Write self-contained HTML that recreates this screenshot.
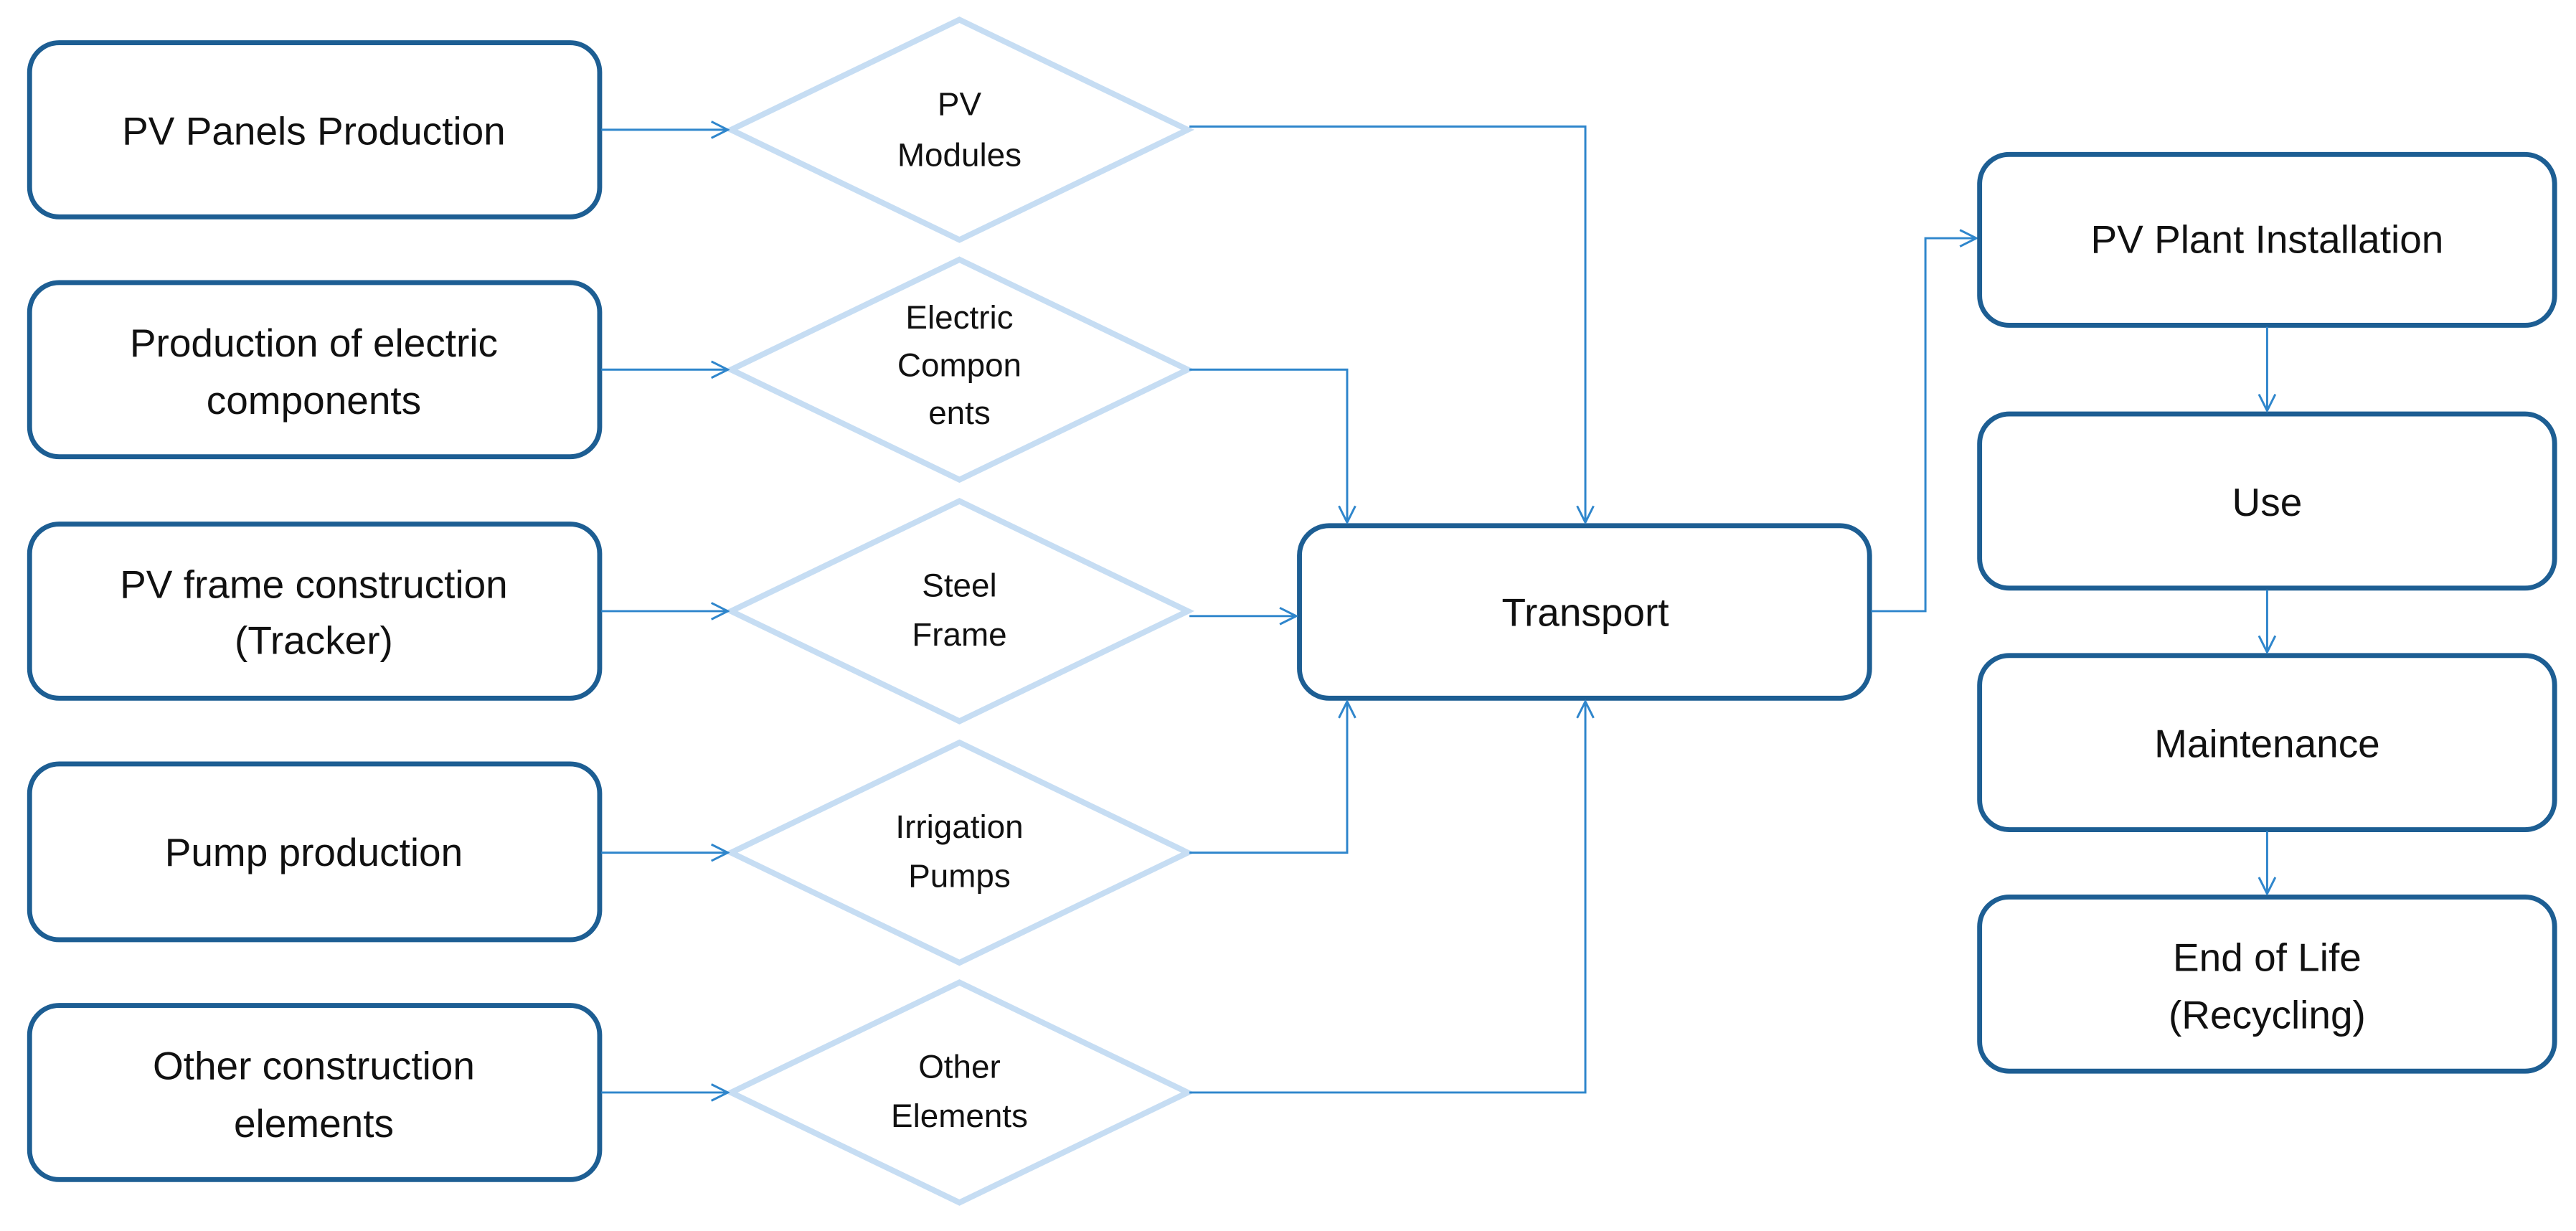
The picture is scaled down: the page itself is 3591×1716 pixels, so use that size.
<!DOCTYPE html>
<html><head><meta charset="utf-8"><style>
html,body{margin:0;padding:0;background:#fff}
svg{display:block}
text{font-family:"Liberation Sans",Arial,sans-serif;fill:#111;text-anchor:middle}
.b{fill:#fff;stroke:#1d5e93;stroke-width:3}
.d{fill:#fff;stroke:#c6ddf3;stroke-width:3.5}
.c{fill:none;stroke:#2f86cc;stroke-width:1.3}
.t{font-size:24px}
.s{font-size:20px}
</style></head><body>
<svg width="3591" height="1716" viewBox="0 0 1568 749.3" xmlns="http://www.w3.org/2000/svg">
<defs><marker id="a" viewBox="0 0 12 12" refX="11" refY="6" markerWidth="12" markerHeight="12" markerUnits="userSpaceOnUse" orient="auto"><path d="M1,1 L11,6 L1,11" fill="none" stroke="#2f86cc" stroke-width="1.3"/></marker></defs>

<rect class="b" x="18" y="26" width="347" height="106" rx="18"/>
<rect class="b" x="18" y="172" width="347" height="106" rx="18"/>
<rect class="b" x="18" y="319" width="347" height="106" rx="18"/>
<rect class="b" x="18" y="465" width="347" height="107" rx="18"/>
<rect class="b" x="18" y="612" width="347" height="106" rx="18"/>
<text class="t" x="191" y="88">PV Panels Production</text>
<text class="t" x="191" y="217">Production of electric</text>
<text class="t" x="191" y="252">components</text>
<text class="t" x="191" y="364">PV frame construction</text>
<text class="t" x="191" y="398">(Tracker)</text>
<text class="t" x="191" y="527">Pump production</text>
<text class="t" x="191" y="657">Other construction</text>
<text class="t" x="191" y="692">elements</text>

<polygon class="d" points="584,12 723,79 584,146 445,79"/>
<polygon class="d" points="584,158 723,225 584,292 445,225"/>
<polygon class="d" points="584,305 723,372 584,439 445,372"/>
<polygon class="d" points="584,452 723,519 584,586 445,519"/>
<polygon class="d" points="584,598 723,665 584,732 445,665"/>
<text class="s" x="584" y="70">PV</text>
<text class="s" x="584" y="101">Modules</text>
<text class="s" x="584" y="200">Electric</text>
<text class="s" x="584" y="229">Compon</text>
<text class="s" x="584" y="258">ents</text>
<text class="s" x="584" y="363">Steel</text>
<text class="s" x="584" y="393">Frame</text>
<text class="s" x="584" y="510">Irrigation</text>
<text class="s" x="584" y="540">Pumps</text>
<text class="s" x="584" y="656">Other</text>
<text class="s" x="584" y="686">Elements</text>

<path class="c" marker-end="url(#a)" d="M366,79 H443"/>
<path class="c" marker-end="url(#a)" d="M366,225 H443"/>
<path class="c" marker-end="url(#a)" d="M366,372 H443"/>
<path class="c" marker-end="url(#a)" d="M366,519 H443"/>
<path class="c" marker-end="url(#a)" d="M366,665 H443"/>

<rect class="b" x="791" y="320" width="347" height="105" rx="18"/>
<text class="t" x="965" y="381">Transport</text>
<path class="c" marker-end="url(#a)" d="M724,77 H965 V318"/>
<path class="c" marker-end="url(#a)" d="M724,225 H820 V318"/>
<path class="c" marker-end="url(#a)" d="M724,375 H789"/>
<path class="c" marker-end="url(#a)" d="M724,519 H820 V427"/>
<path class="c" marker-end="url(#a)" d="M724,665 H965 V427"/>
<path class="c" marker-end="url(#a)" d="M1139,372 H1172 V145 H1203"/>

<rect class="b" x="1205" y="94" width="350" height="104" rx="18"/>
<rect class="b" x="1205" y="252" width="350" height="106" rx="18"/>
<rect class="b" x="1205" y="399" width="350" height="106" rx="18"/>
<rect class="b" x="1205" y="546" width="350" height="106" rx="18"/>
<text class="t" x="1380" y="154">PV Plant Installation</text>
<text class="t" x="1380" y="314">Use</text>
<text class="t" x="1380" y="461">Maintenance</text>
<text class="t" x="1380" y="591">End of Life</text>
<text class="t" x="1380" y="626">(Recycling)</text>
<path class="c" marker-end="url(#a)" d="M1380,199 V250"/>
<path class="c" marker-end="url(#a)" d="M1380,359 V397"/>
<path class="c" marker-end="url(#a)" d="M1380,506 V544"/>
</svg>
</body></html>
